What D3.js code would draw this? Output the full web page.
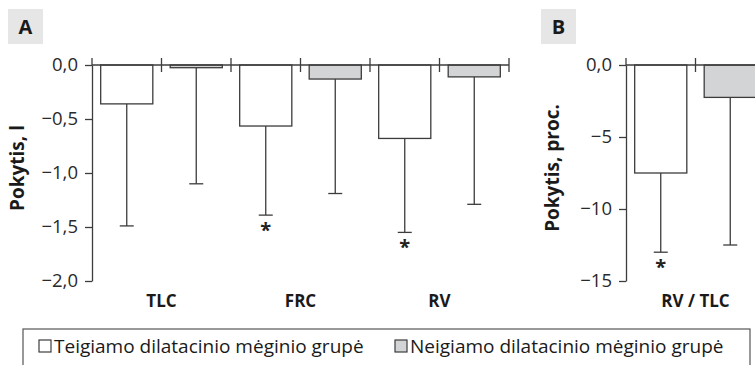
<!DOCTYPE html>
<html><head><meta charset="utf-8">
<script src="https://cdn.jsdelivr.net/npm/d3@7"></script>
<style>
html,body{margin:0;padding:0;background:#fff;}
svg{display:block;font-family:"Open Sans",sans-serif;}
</style></head><body>
<svg id="c" width="755" height="365"></svg>
<script>
// ---- data ----
const categoriesA = ["TLC", "FRC", "RV"];
const categoriesB = ["RV / TLC"];
const groups = ["Teigiamo dilatacinio mėginio grupė", "Neigiamo dilatacinio mėginio grupė"];
const posMeanA = [-0.36, -0.565, -0.68];
const posErrA  = [-1.49, -1.39, -1.55];
const negMeanA = [-0.025, -0.13, -0.11];
const negErrA  = [-1.10, -1.19, -1.29];
const posSigA  = [false, true, true];
const posMeanB = [-7.5];
const posErrB  = [-13.0];
const negMeanB = [-2.25];
const negErrB  = [-12.5];
const posSigB  = [true];
const yTicksA = [0, -0.5, -1.0, -1.5, -2.0];
const yTickLabelsA = ["0,0", "\u22120,5", "\u22121,0", "\u22121,5", "\u22122,0"];
const yTicksB = [0, -5, -10, -15];
const yTickLabelsB = ["0,0", "\u22125", "\u221210", "\u221215"];
const yTitleA = "Pokytis, l";
const yTitleB = "Pokytis, proc.";
const panelLabels = ["A", "B"];

// ---- styles ----
const stroke = "#3c3c3c";
const fills = ["#ffffff", "#d3d4d5"];
const svg = d3.select("#c");

function panel(cfg) {
  const g = svg.append("g");
  const keys = [];
  cfg.cats.forEach(c => { keys.push(c + "|0"); keys.push(c + "|1"); });
  const x = d3.scaleBand().domain(keys).range([cfg.x0, cfg.x1]).paddingInner(0.25).paddingOuter(0.125);
  const y = d3.scaleLinear().domain(cfg.ydom).range([65, 281]);
  const step = x.step(), bw = x.bandwidth();
  const rows = [];
  cfg.cats.forEach((c, i) => {
    rows.push({key: c + "|0", g: 0, v: cfg.pos[i], e: cfg.posErr[i], sig: cfg.sig[i]});
    rows.push({key: c + "|1", g: 1, v: cfg.neg[i], e: cfg.negErr[i], sig: false});
  });
  // error bars
  g.selectAll(".eb").data(rows).enter().append("line")
    .attr("x1", d => x(d.key) + bw / 2).attr("x2", d => x(d.key) + bw / 2)
    .attr("y1", d => y(d.v)).attr("y2", d => y(d.e))
    .attr("stroke", stroke).attr("stroke-width", 1.3);
  g.selectAll(".cap").data(rows).enter().append("line")
    .attr("x1", d => x(d.key) + bw / 2 - 7).attr("x2", d => x(d.key) + bw / 2 + 7)
    .attr("y1", d => y(d.e)).attr("y2", d => y(d.e))
    .attr("stroke", stroke).attr("stroke-width", 1.3);
  // bars
  g.selectAll(".bar").data(rows).enter().append("rect")
    .attr("x", d => x(d.key)).attr("width", bw)
    .attr("y", y(0)).attr("height", d => y(d.v) - y(0))
    .attr("fill", d => fills[d.g]).attr("stroke", stroke).attr("stroke-width", 1.3);
  // asterisks
  g.selectAll(".ast").data(rows.filter(d => d.sig)).enter().append("text")
    .attr("x", d => x(d.key) + bw / 2).attr("y", d => y(d.e) + 22)
    .attr("text-anchor", "middle").attr("font-size", 20).attr("font-weight", "bold")
    .attr("fill", "#222").text("*");
  // zero line + separators
  g.append("line").attr("x1", cfg.x0).attr("x2", cfg.x1).attr("y1", y(0)).attr("y2", y(0))
    .attr("stroke", stroke).attr("stroke-width", 1.3);
  g.selectAll(".sep").data(keys).enter().append("line")
    .attr("x1", d => x(d) + bw + (step - bw) / 2).attr("x2", d => x(d) + bw + (step - bw) / 2)
    .attr("y1", y(0) - 7).attr("y2", y(0) + 7)
    .attr("stroke", stroke).attr("stroke-width", 1.3);
  // y axis
  const ax = g.append("g").attr("transform", `translate(${cfg.x0},0)`)
    .call(d3.axisLeft(y).tickValues(cfg.ticks).tickFormat((d, i) => cfg.tickLabels[i]).tickSize(7).tickSizeOuter(0));
  ax.select(".domain").attr("stroke", stroke).attr("stroke-width", 1.3);
  ax.selectAll(".tick line").attr("stroke", stroke).attr("stroke-width", 1.3);
  ax.selectAll(".tick text").attr("font-size", 18.5).attr("font-family", "Open Sans, sans-serif")
    .attr("fill", "#2a2a2a").attr("x", -14);
  g.append("line").attr("x1", cfg.x0).attr("x2", cfg.x0).attr("y1", y(0) - 7).attr("y2", y(0))
    .attr("stroke", stroke).attr("stroke-width", 1.3);
  // category labels
  g.selectAll(".cat").data(cfg.cats).enter().append("text")
    .attr("x", c => (x(c + "|0") + x(c + "|1") + bw) / 2).attr("y", 307)
    .attr("text-anchor", "middle").attr("font-size", 17).attr("font-weight", "bold")
    .attr("fill", "#1a1a1a").text(c => c);
  // y title
  g.append("text").attr("transform", `translate(${cfg.titleX},${cfg.titleY}) rotate(-90)`)
    .attr("text-anchor", "middle").attr("font-size", 19).attr("font-weight", "bold")
    .attr("fill", "#1a1a1a").text(cfg.title);
  // panel letter
  g.append("rect").attr("x", cfg.labX).attr("y", 9).attr("width", 35).attr("height", 35).attr("fill", "#e6e6e6");
  g.append("text").attr("x", cfg.labX + 17.5).attr("y", 34).attr("text-anchor", "middle")
    .attr("font-size", 20).attr("font-weight", "bold").attr("fill", "#1a1a1a").text(cfg.label);
}

panel({cats: categoriesA, pos: posMeanA, posErr: posErrA, neg: negMeanA, negErr: negErrA, sig: posSigA,
  x0: 92, x1: 509, ydom: [0, -2], ticks: yTicksA, tickLabels: yTickLabelsA,
  title: yTitleA, titleX: 24, titleY: 168, label: panelLabels[0], labX: 8});
panel({cats: categoriesB, pos: posMeanB, posErr: posErrB, neg: negMeanB, negErr: negErrB, sig: posSigB,
  x0: 626, x1: 765, ydom: [0, -15], ticks: yTicksB, tickLabels: yTickLabelsB,
  title: yTitleB, titleX: 559, titleY: 168, label: panelLabels[1], labX: 541});

// legend
const lg = svg.append("g");
lg.append("rect").attr("x", 23).attr("y", 329).attr("width", 727).attr("height", 60)
  .attr("fill", "none").attr("stroke", "#555").attr("stroke-width", 1.2);
const legX = [39, 395];
groups.forEach((t, i) => {
  lg.append("rect").attr("x", legX[i]).attr("y", 340).attr("width", 12).attr("height", 12)
    .attr("fill", fills[i]).attr("stroke", stroke).attr("stroke-width", 1.2);
  lg.append("text").attr("x", legX[i] + 15).attr("y", 353).attr("font-size", 19)
    .attr("fill", "#1a1a1a").text(t);
});
</script>
</body></html>
